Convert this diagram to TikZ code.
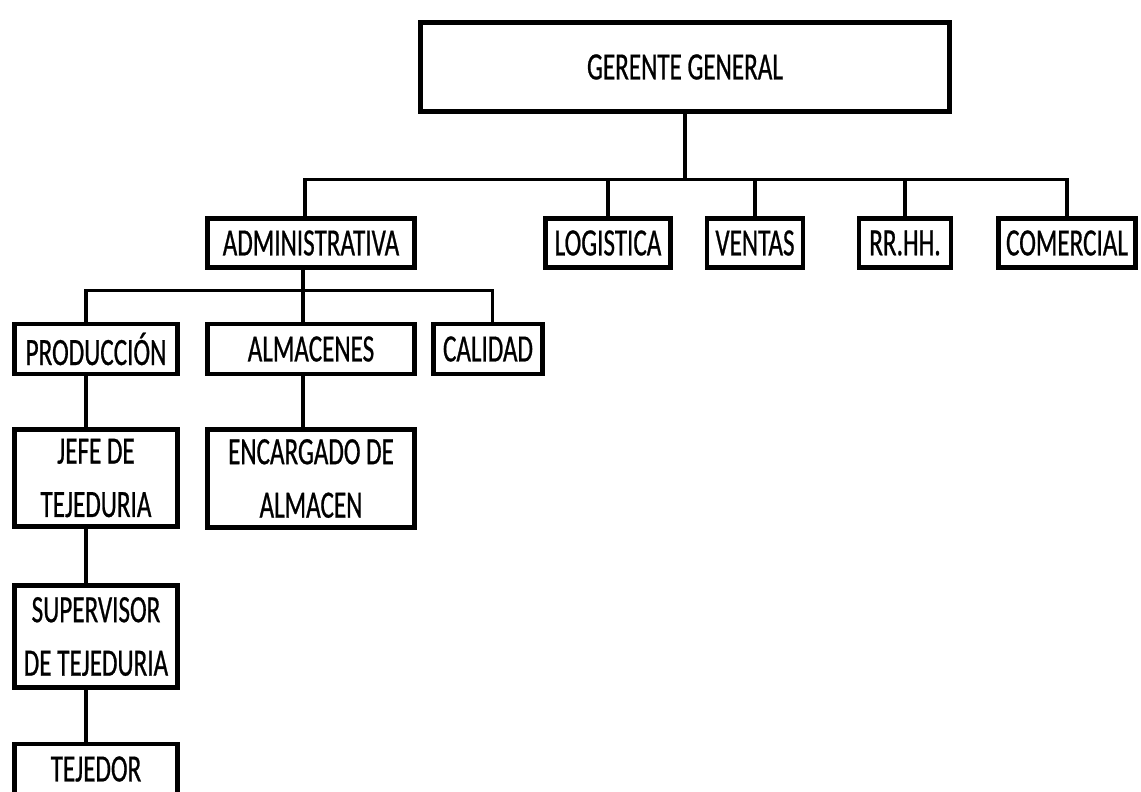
\documentclass[tikz,border=0pt]{standalone}
\usepackage{fontspec}
\setmainfont[FakeStretch=0.65, FakeBold=0.6]{Carlito}
\usetikzlibrary{positioning}

\begin{document}
\begin{tikzpicture}[x=0.025cm, y=-0.025cm,
  unit/.style={draw, line width=3.2pt, inner sep=0pt, align=center,
    font=\fontsize{27.5}{38}\selectfont, minimum height=1.22cm},
  link/.style={line width=2.2pt}]
 \useasboundingbox (0,0) rectangle (1141,791);
 \clip (0,0) rectangle (1141,791);
 % top
 \node[unit, minimum width=13.22cm, minimum height=2.22cm] (gg) at (685,67){GERENTE GENERAL};
 % second level
 \node[unit, minimum width=5.18cm] (adm) at (311,243){ADMINISTRATIVA};
 \node[unit, minimum width=3.12cm] (log) at (608,243){LOGISTICA};
 \node[unit, minimum width=2.4cm] (ven) at (755,243){VENTAS};
 \node[unit, minimum width=2.3cm] (rrhh) at (905,243){RR.HH.};
 \node[unit, minimum width=3.42cm] (com) at (1067,243){COMERCIAL};
 % under administrativa
 \node[unit, minimum width=4.08cm, minimum height=1.25cm] (pro) at (96,349){PRODUCCIÓN};
 \node[unit, minimum width=5.18cm, minimum height=1.25cm] (alm) at (311,349){ALMACENES};
 \node[unit, minimum width=2.72cm, minimum height=1.25cm] (cal) at (488,349){CALIDAD};
 \node[unit, minimum width=4.08cm, minimum height=2.42cm] (jefe) at (96,478){JEFE DE\\TEJEDURIA};
 \node[unit, minimum width=5.18cm, minimum height=2.45cm] (enc) at (311,478.5){ENCARGADO DE\\ALMACEN};
 \node[unit, minimum width=4.08cm, minimum height=2.55cm] (sup) at (96,636.5){SUPERVISOR\\DE TEJEDURIA};
 \node[unit, minimum width=4.08cm, minimum height=1.25cm] (tej) at (96,769){TEJEDOR};
 % connectors
 \coordinate (gbus) at ([yshift=-1.65cm]gg.south);
 \foreach \c in {log,ven,rrhh,com}{
   \draw[link] (gg.south) -- (gbus) -| (\c.north);
 }
 \draw[link] (gbus) -| ([xshift=-0.15cm]adm.north);
 \coordinate (abus) at ([xshift=-0.2cm, yshift=-0.53cm]adm.south);
 \draw[link] ([xshift=-0.2cm]adm.south) -- (abus) -| ([xshift=-0.25cm]pro.north);
 \draw[link] (abus) -- ([xshift=-0.2cm]alm.north);
 \draw[link] (abus) -| ([xshift=0.12cm]cal.north);
 \draw[link] ([xshift=-0.25cm]pro.south) -- ([xshift=-0.25cm]jefe.north);
 \draw[link] ([xshift=-0.25cm]jefe.south) -- ([xshift=-0.25cm]sup.north);
 \draw[link] ([xshift=-0.25cm]sup.south) -- ([xshift=-0.25cm]tej.north);
 \draw[link] ([xshift=-0.2cm]alm.south) -- ([xshift=-0.2cm]enc.north);
\end{tikzpicture}
\end{document}
